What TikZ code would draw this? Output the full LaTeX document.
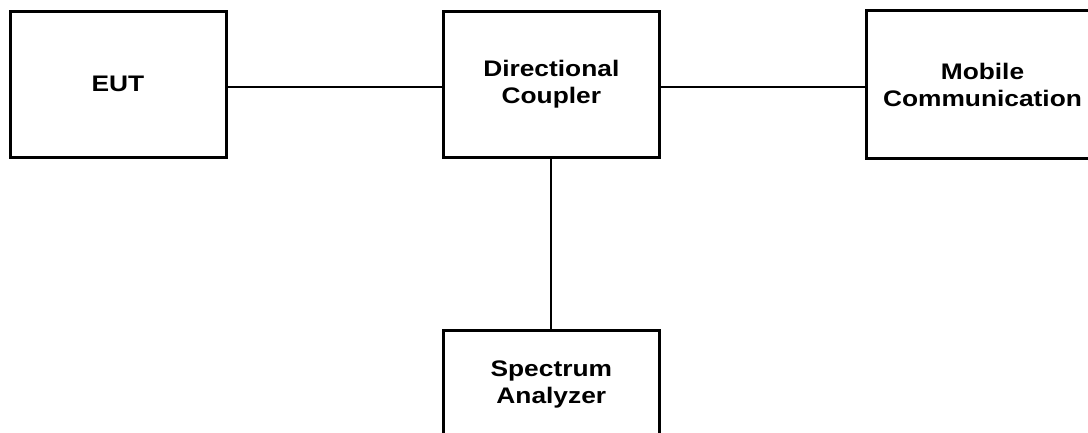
\documentclass[tikz,border=0pt]{standalone}
\usepackage{fontspec}
\newfontfamily\diagfont[FakeStretch=1.17]{Liberation Sans}
\begin{document}
\begin{tikzpicture}[x=1pt,y=-1pt,
  blockbox/.style={draw=black, line width=3pt, fill=white, inner sep=0pt, align=center,
    font=\diagfont\bfseries\fontsize{22.5}{27}\selectfont},
  wire/.style={draw=black, line width=2pt}]
\useasboundingbox (0,0) rectangle (1088,432);
\begin{scope}
\clip (0,0) rectangle (1088,432);
\node[blockbox, minimum width=216pt, minimum height=146.5pt] (eut) at (118,84.25) {EUT};
\node[blockbox, minimum width=216pt, minimum height=146.5pt] (dc) at (551.3,84.25) {Directional\\Coupler};
\node[blockbox, minimum width=233pt, minimum height=148pt] (mc) at (982.5,84.5) {Mobile\\Communication};
\node[blockbox, minimum width=216pt, minimum height=108pt] (sa) at (551.3,384.5) {Spectrum\\Analyzer};
\coordinate (ly) at (0,87);
\draw[wire] (eut.east |- ly) -- (dc.west |- ly);
\draw[wire] (dc.east |- ly) -- (mc.west |- ly);
\draw[wire] (dc.south) -- (sa.north);
\end{scope}
\end{tikzpicture}
\end{document}
